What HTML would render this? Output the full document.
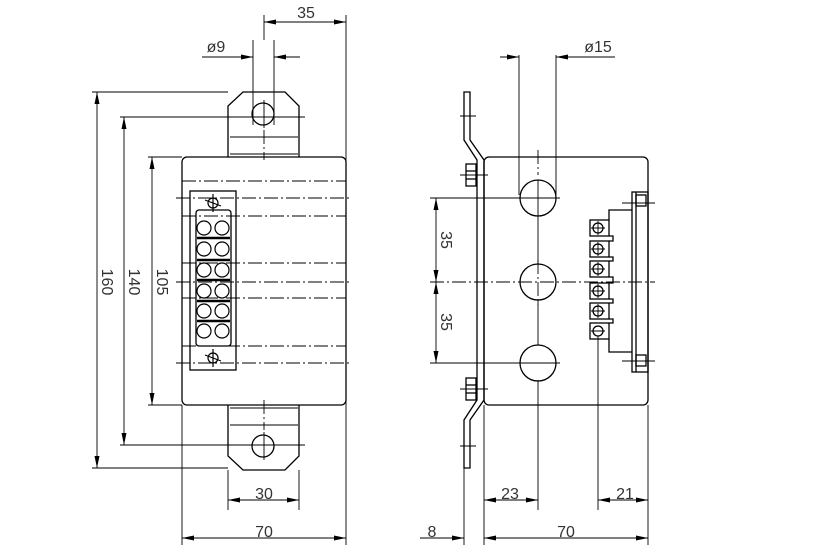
<!DOCTYPE html>
<html><head><style>html,body{margin:0;background:#fff}svg{display:block}</style></head><body>
<svg width="834" height="556" viewBox="0 0 834 556" xmlns="http://www.w3.org/2000/svg" font-family="Liberation Sans, sans-serif" font-size="16" fill="none" stroke="#000" stroke-width="1">
<defs>
<marker id="a" viewBox="0 0 12 5" refX="12" refY="2.5" markerWidth="12" markerHeight="5" orient="auto-start-reverse" markerUnits="userSpaceOnUse"><path d="M0,0 L12,2.5 L0,5 Z" fill="#000" stroke="none"/></marker>
</defs>
<g stroke-width="1.3">
<!-- LEFT VIEW -->
<rect x="182" y="157" width="164" height="248" rx="5"/>
<path d="M228,157 V106 L243,92 H285 L299,106 V157"/>
<path d="M228,405 V456 L243,470 H285 L299,456 V405"/>
<circle cx="263" cy="114" r="11"/>
<circle cx="263" cy="446" r="11"/>
<line x1="230" y1="137" x2="298" y2="137" stroke-width="1"/>
<line x1="230" y1="154" x2="298" y2="154" stroke-width="1"/>
<line x1="230" y1="425" x2="298" y2="425" stroke-width="1"/>
<line x1="230" y1="408" x2="298" y2="408" stroke-width="1"/>
<rect x="190" y="191" width="46" height="179"/>
<rect x="196" y="210" width="35" height="136" rx="3"/>
<g stroke-width="1.2">
<circle cx="204" cy="228" r="7"/><circle cx="222" cy="228" r="7"/>
<circle cx="204" cy="249" r="7"/><circle cx="222" cy="249" r="7"/>
<circle cx="204" cy="270" r="7"/><circle cx="222" cy="270" r="7"/>
<circle cx="204" cy="291" r="7"/><circle cx="222" cy="291" r="7"/>
<circle cx="204" cy="311" r="7"/><circle cx="222" cy="311" r="7"/>
<circle cx="204" cy="331" r="7"/><circle cx="222" cy="331" r="7"/>
<circle cx="213" cy="203" r="5"/><circle cx="213" cy="358" r="5"/>
<path d="M205,200 L221,206 M205,355 L221,361 M213,194 V212 M213,349 V367"/>
</g>
<g stroke-width="2.5"><line x1="197" y1="238" x2="230" y2="238"/><line x1="197" y1="260" x2="230" y2="260"/><line x1="197" y1="280" x2="230" y2="280"/><line x1="197" y1="301" x2="230" y2="301"/><line x1="197" y1="321" x2="230" y2="321"/></g>
<!-- RIGHT VIEW -->
<rect x="484" y="157" width="164" height="248" rx="5"/>
<circle cx="538" cy="198" r="18"/><circle cx="538" cy="282" r="18"/><circle cx="538" cy="363" r="18"/>
<path d="M464,92 V140 L477,160 V400 L464,420 V468 H470 V420 L484,400 V160 L470,140 V92 Z"/>
<rect x="466" y="164" width="10" height="22"/><rect x="466" y="378" width="10" height="22"/>
<line x1="466" y1="171" x2="476" y2="171"/><line x1="466" y1="179" x2="476" y2="179"/>
<line x1="466" y1="385" x2="476" y2="385"/><line x1="466" y1="393" x2="476" y2="393"/>
<g>
<rect x="590" y="220" width="19" height="16"/><rect x="590" y="241" width="19" height="16"/><rect x="590" y="261" width="19" height="16"/><rect x="590" y="283" width="19" height="16"/><rect x="590" y="303" width="19" height="16"/><rect x="590" y="323" width="19" height="16"/>
<circle cx="598" cy="228" r="5"/><circle cx="598" cy="249" r="5"/><circle cx="598" cy="269" r="5"/><circle cx="598" cy="291" r="5"/><circle cx="598" cy="311" r="5"/><circle cx="598" cy="331" r="5"/>
<path d="M609,220 V210 H632 M609,339 V352 H632 M609,236 H613 V241 H609 M609,257 H613 V261 H609 M609,277 H613 V283 H609 M609,299 H613 V303 H609 M609,319 H613 V323 H609"/>
<rect x="632" y="192" width="16" height="180"/><line x1="636" y1="192" x2="636" y2="372"/>
<rect x="636" y="195" width="10" height="11"/><rect x="636" y="355" width="10" height="11"/>
</g>
</g>
<!-- small crosshairs -->
<g stroke-width="0.9">
<path d="M591,228 H605 M598,221 V235 M591,249 H605 M598,242 V256 M591,269 H605 M598,262 V276 M591,291 H605 M598,284 V298 M591,311 H605 M598,304 V318 M591,331 H605"/>
<path d="M460,175 H488 M460,389 H488 M460,116 H476 M460,446 H476 M622,203 H655 M622,361 H655"/>
<path d="M264,100 V128 M264,432 V460"/>
</g>
<!-- centerlines -->
<g stroke-width="0.9" stroke-dasharray="14,3,2,3">
<line x1="182" y1="181" x2="346" y2="181"/><line x1="176" y1="198" x2="352" y2="198"/><line x1="182" y1="216" x2="346" y2="216"/><line x1="182" y1="263" x2="346" y2="263"/><line x1="176" y1="282" x2="352" y2="282"/><line x1="182" y1="298" x2="346" y2="298"/><line x1="182" y1="346" x2="346" y2="346"/><line x1="176" y1="363" x2="352" y2="363"/>
<line x1="264" y1="130" x2="264" y2="160"/><line x1="264" y1="400" x2="264" y2="430"/>
<line x1="430" y1="282" x2="655" y2="282"/>
<line x1="538" y1="150" x2="538" y2="175"/><line x1="538" y1="260" x2="538" y2="305"/>
</g>
<!-- dimension & extension lines -->
<g stroke-width="0.9">
<line x1="253" y1="40" x2="253" y2="125"/><line x1="274" y1="40" x2="274" y2="125"/><line x1="264" y1="15" x2="264" y2="40"/>
<line x1="346" y1="15" x2="346" y2="545"/><line x1="182" y1="405" x2="182" y2="545"/>
<line x1="228" y1="470" x2="228" y2="510"/><line x1="299" y1="470" x2="299" y2="510"/>
<line x1="92" y1="92" x2="228" y2="92"/><line x1="120" y1="117" x2="305" y2="117"/><line x1="148" y1="157" x2="182" y2="157"/><line x1="148" y1="405" x2="182" y2="405"/><line x1="120" y1="445" x2="305" y2="445"/><line x1="92" y1="468" x2="228" y2="468"/>
<line x1="519" y1="55" x2="519" y2="195"/><line x1="556" y1="55" x2="556" y2="195"/>
<line x1="430" y1="198" x2="560" y2="198"/><line x1="430" y1="363" x2="560" y2="363"/>
<line x1="538" y1="380" x2="538" y2="510"/><line x1="538" y1="180" x2="538" y2="216"/><line x1="538" y1="215" x2="538" y2="264"/><line x1="538" y1="300" x2="538" y2="345"/>
<line x1="598" y1="336" x2="598" y2="510"/><line x1="648" y1="405" x2="648" y2="545"/><line x1="484" y1="405" x2="484" y2="545"/><line x1="464" y1="468" x2="464" y2="545"/>
<line x1="264" y1="22" x2="346" y2="22" marker-start="url(#a)" marker-end="url(#a)"/>
<line x1="202" y1="57" x2="253" y2="57" marker-end="url(#a)"/><line x1="300" y1="57" x2="274" y2="57" marker-end="url(#a)"/>
<line x1="97" y1="92" x2="97" y2="468" marker-start="url(#a)" marker-end="url(#a)"/>
<line x1="124" y1="117" x2="124" y2="445" marker-start="url(#a)" marker-end="url(#a)"/>
<line x1="152" y1="157" x2="152" y2="405" marker-start="url(#a)" marker-end="url(#a)"/>
<line x1="228" y1="500" x2="299" y2="500" marker-start="url(#a)" marker-end="url(#a)"/>
<line x1="182" y1="538" x2="346" y2="538" marker-start="url(#a)" marker-end="url(#a)"/>
<line x1="500" y1="57" x2="519" y2="57" marker-end="url(#a)"/><line x1="615" y1="57" x2="556" y2="57" marker-end="url(#a)"/>
<line x1="436" y1="198" x2="436" y2="282" marker-start="url(#a)" marker-end="url(#a)"/>
<line x1="436" y1="282" x2="436" y2="363" marker-start="url(#a)" marker-end="url(#a)"/>
<line x1="484" y1="500" x2="538" y2="500" marker-start="url(#a)" marker-end="url(#a)"/>
<line x1="598" y1="500" x2="648" y2="500" marker-start="url(#a)" marker-end="url(#a)"/>
<line x1="484" y1="538" x2="648" y2="538" marker-start="url(#a)" marker-end="url(#a)"/>
<line x1="420" y1="538" x2="464" y2="538" marker-end="url(#a)"/>
</g>
<g fill="#333" stroke="none" text-anchor="middle">
<text x="306" y="18">35</text>
<text x="216" y="52">ø9</text>
<text x="598" y="52">ø15</text>
<text x="264" y="499">30</text>
<text x="264" y="537">70</text>
<text x="510" y="499">23</text>
<text x="625" y="499">21</text>
<text x="566" y="537">70</text>
<text x="432" y="537">8</text>
<text transform="translate(102,282) rotate(90)">160</text>
<text transform="translate(129,282) rotate(90)">140</text>
<text transform="translate(157,282) rotate(90)">105</text>
<text transform="translate(441,240) rotate(90)">35</text>
<text transform="translate(441,322) rotate(90)">35</text>
</g>
</svg>
</body></html>
